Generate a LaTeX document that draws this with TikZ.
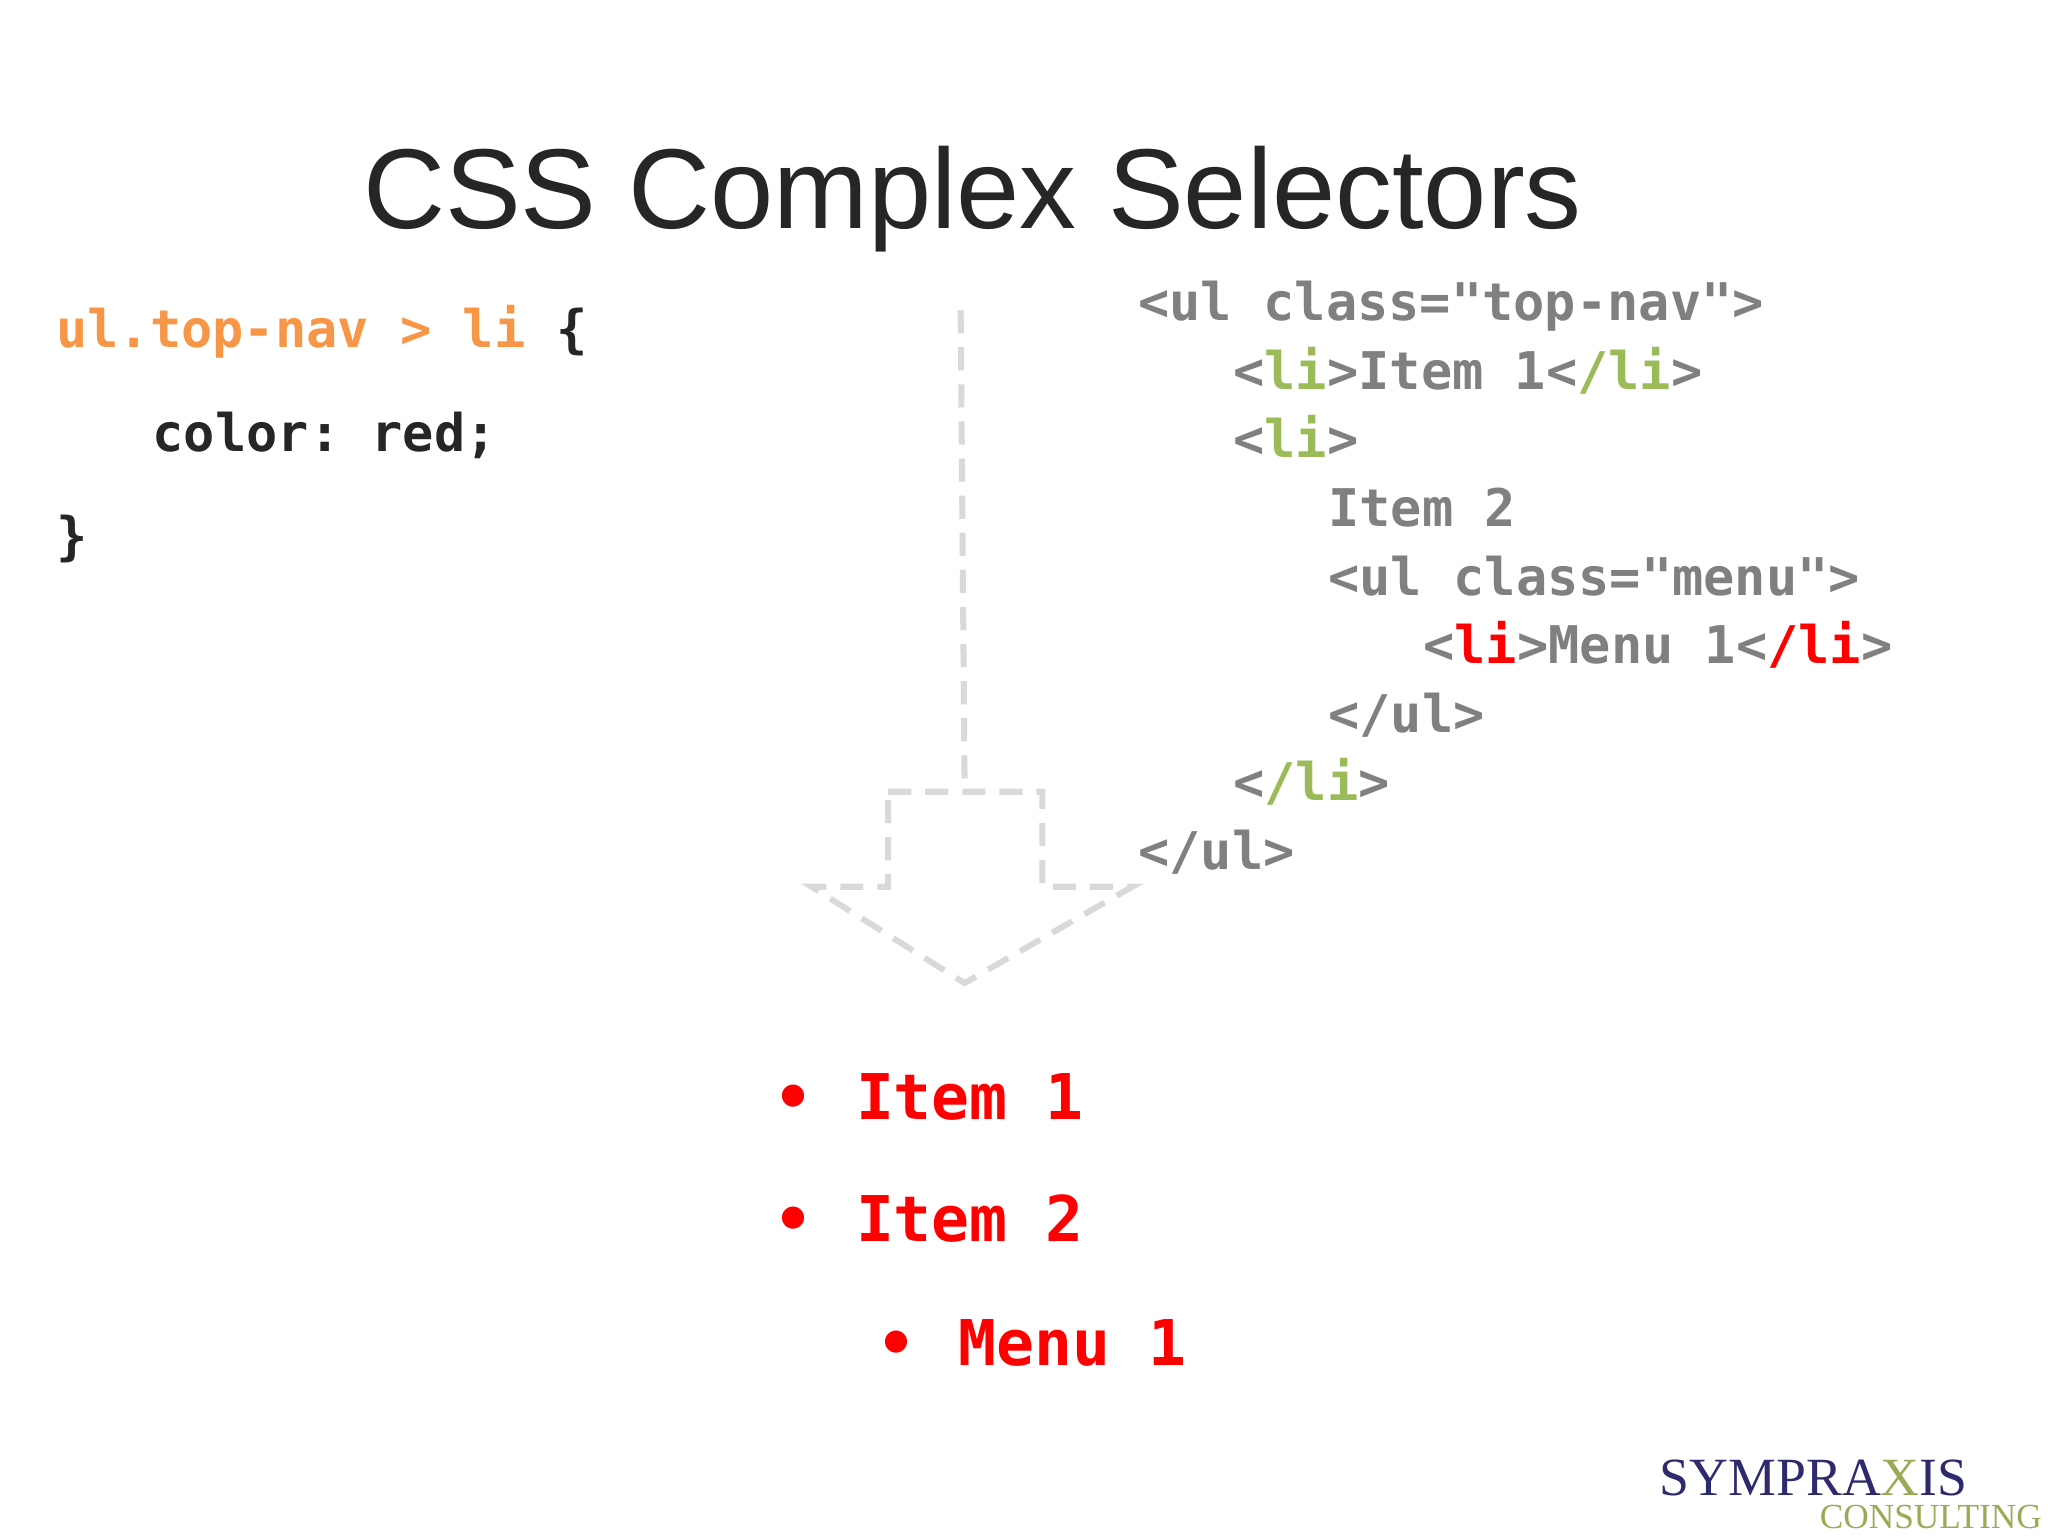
\documentclass[tikz,border=0pt]{standalone}
\usepackage{fontspec}
\setmainfont{Liberation Sans}
\setmonofont{DejaVu Sans Mono}
\newfontfamily\logofont{Liberation Serif}
\definecolor{cgray}{HTML}{808080}
\definecolor{cgreen}{HTML}{9BBB59}
\definecolor{corange}{HTML}{F79646}
\definecolor{clight}{HTML}{D9D9D9}
\definecolor{cblack}{HTML}{262626}
\definecolor{logoblue}{HTML}{2E2A6E}
\definecolor{logogreen}{HTML}{9AAA55}
\begin{document}
\begin{tikzpicture}[x=1cm,y=-1cm,
  code/.style={anchor=base west,inner sep=0pt,font=\ttfamily\bfseries\fontsize{11.2pt}{13pt}\selectfont},
  lst/.style={anchor=base west,inner sep=0pt,text=red,font=\ttfamily\bfseries\fontsize{13.6pt}{16pt}\selectfont},
  dsh/.style={draw=clight,line width=1.3pt,dash pattern=on 5pt off 3pt}]
\useasboundingbox (0,0) rectangle (15.52,11.64);
\node[anchor=base,inner sep=0pt,text=cblack,font=\fontsize{24.5pt}{30pt}\selectfont] (title) at (7.37,1.73) {CSS Complex Selectors};
% left css
\node[code,text=corange] (c1) at (0.42,2.63) {ul.top-nav > li \textcolor{cblack}{\{}};
\node[code,text=cblack] (c2) at (1.15,3.42) {color: red;};
\node[code,text=cblack] (c3) at (0.42,4.20) {\}};
% right html
\node[code,text=cgray] (h1) at (8.62,2.43) {<ul class="top-nav">};
\node[code,text=cgray] (h2) at (9.34,2.95) {<\textcolor{cgreen}{li}>Item 1<\textcolor{cgreen}{/li}>};
\node[code,text=cgray] (h3) at (9.34,3.47) {<\textcolor{cgreen}{li}>};
\node[code,text=cgray] (h4) at (10.06,3.99) {Item 2};
\node[code,text=cgray] (h5) at (10.06,4.51) {<ul class="menu">};
\node[code,text=cgray] (h6) at (10.78,5.03) {<\textcolor{red}{li}>Menu 1<\textcolor{red}{/li}>};
\node[code,text=cgray] (h7) at (10.06,5.55) {</ul>};
\node[code,text=cgray] (h8) at (9.34,6.07) {<\textcolor{cgreen}{/li}>};
\node[code,text=cgray] (h9) at (8.62,6.59) {</ul>};
% arrow
\coordinate (s0) at (7.28,2.35);
\coordinate (s1) at (7.31,5.97);
\draw[dsh] (s0) -- (s1);
\draw[dsh] (6.73,6.00) -- (7.90,6.00) -- (7.90,6.72) -- (8.58,6.72) -- (7.31,7.45) -- (6.15,6.72) -- (6.73,6.72) -- cycle;
% output list
\node[lst] (b1) at (5.86,8.48) {•};
\node[lst] (l1) at (6.48,8.48) {Item 1};
\node[lst] (b2) at (5.86,9.41) {•};
\node[lst] (l2) at (6.48,9.41) {Item 2};
\node[lst] (b3) at (6.64,10.35) {•};
\node[lst] (l3) at (7.26,10.35) {Menu 1};
% logo
\node[anchor=base west,inner sep=0pt,text=logoblue,font=\logofont\fontsize{11.6pt}{14pt}\selectfont] (logo) at (12.57,11.33) {SYMPRA\textcolor{logogreen}{X}IS};
\node[anchor=base east,inner sep=0pt,text=logogreen,font=\logofont\fontsize{7.6pt}{9pt}\selectfont] (cons) at (15.48,11.58) {CONSULTING};
\end{tikzpicture}
\end{document}
